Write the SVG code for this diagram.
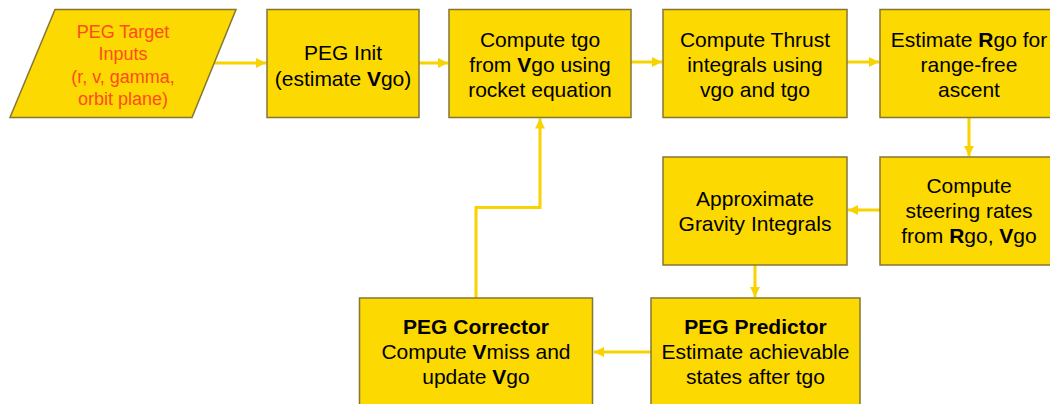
<svg xmlns="http://www.w3.org/2000/svg" width="1050" height="404" viewBox="0 0 1050 404">
<style>
.box{fill:#FCD900;stroke:#857634;stroke-width:1.5}
.t{font-family:"Liberation Sans",Arial,sans-serif;font-size:21px;fill:#000;text-anchor:middle}
.r{font-family:"Liberation Sans",Arial,sans-serif;font-size:18px;fill:#FF4B1F;text-anchor:middle}
.b{font-weight:bold}
.c{fill:none;stroke:#F7D300;stroke-width:3}
</style>
<defs>
<marker id="ah" markerUnits="userSpaceOnUse" markerWidth="11" markerHeight="11" refX="10" refY="5" orient="auto">
<path d="M0,0 L10,5 L0,10 z" fill="#F7D300"/>
</marker>
</defs>
<rect width="1050" height="404" fill="#fff"/>
<g id="connectors">
<path class="c" d="M213,63 H266" marker-end="url(#ah)"/>
<path class="c" d="M419,63 H448" marker-end="url(#ah)"/>
<path class="c" d="M631,62 H662" marker-end="url(#ah)"/>
<path class="c" d="M847,62 H879" marker-end="url(#ah)"/>
<path class="c" d="M969,117 V156" marker-end="url(#ah)"/>
<path class="c" d="M880,210 H848" marker-end="url(#ah)"/>
<path class="c" d="M755,265 V297" marker-end="url(#ah)"/>
<path class="c" d="M651,352 H594" marker-end="url(#ah)"/>
<path class="c" d="M476,298 V207.5 H540 V118.5" marker-end="url(#ah)"/>
</g>
<g id="n_inputs">
<polygon class="box" points="55,9.5 236,9.5 192,117.5 10,117.5"/>
<text class="r" x="123" y="38">PEG Target</text>
<text class="r" x="123" y="60">Inputs</text>
<text class="r" x="123" y="83">(r, v, gamma,</text>
<text class="r" x="123" y="105">orbit plane)</text>
</g>
<g id="n_init">
<rect class="box" x="267" y="9.5" width="152" height="108"/>
<text class="t" x="343" y="60">PEG Init</text>
<text class="t" x="343" y="86">(estimate <tspan class="b">V</tspan>go)</text>
</g>
<g id="n_tgo">
<rect class="box" x="449" y="9.5" width="182" height="108"/>
<text class="t" x="540" y="47">Compute tgo</text>
<text class="t" x="540" y="72">from <tspan class="b">V</tspan>go using</text>
<text class="t" x="540" y="97">rocket equation</text>
</g>
<g id="n_thrust">
<rect class="box" x="663" y="9.5" width="184" height="108"/>
<text class="t" x="755" y="47">Compute Thrust</text>
<text class="t" x="755" y="72">integrals using</text>
<text class="t" x="755" y="97">vgo and tgo</text>
</g>
<g id="n_rgo">
<rect class="box" x="880" y="9.5" width="180" height="108"/>
<text class="t" x="969" y="47">Estimate <tspan class="b">R</tspan>go for</text>
<text class="t" x="969" y="72">range-free</text>
<text class="t" x="969" y="97">ascent</text>
</g>
<g id="n_steering">
<rect class="box" x="880" y="157" width="180" height="108"/>
<text class="t" x="969" y="193">Compute</text>
<text class="t" x="969" y="218">steering rates</text>
<text class="t" x="969" y="243">from <tspan class="b">R</tspan>go, <tspan class="b">V</tspan>go</text>
</g>
<g id="n_gravity">
<rect class="box" x="663" y="157" width="184" height="108"/>
<text class="t" x="755" y="206">Approximate</text>
<text class="t" x="755" y="231">Gravity Integrals</text>
</g>
<g id="n_predictor">
<rect class="box" x="651" y="298" width="209" height="110"/>
<text class="t b" x="755.5" y="334">PEG Predictor</text>
<text class="t" x="755.5" y="359">Estimate achievable</text>
<text class="t" x="755.5" y="384">states after tgo</text>
</g>
<g id="n_corrector">
<rect class="box" x="359.5" y="298" width="233" height="110"/>
<text class="t b" x="476" y="334">PEG Corrector</text>
<text class="t" x="476" y="359">Compute <tspan class="b">V</tspan>miss and</text>
<text class="t" x="476" y="384">update <tspan class="b">V</tspan>go</text>
</g>
</svg>
